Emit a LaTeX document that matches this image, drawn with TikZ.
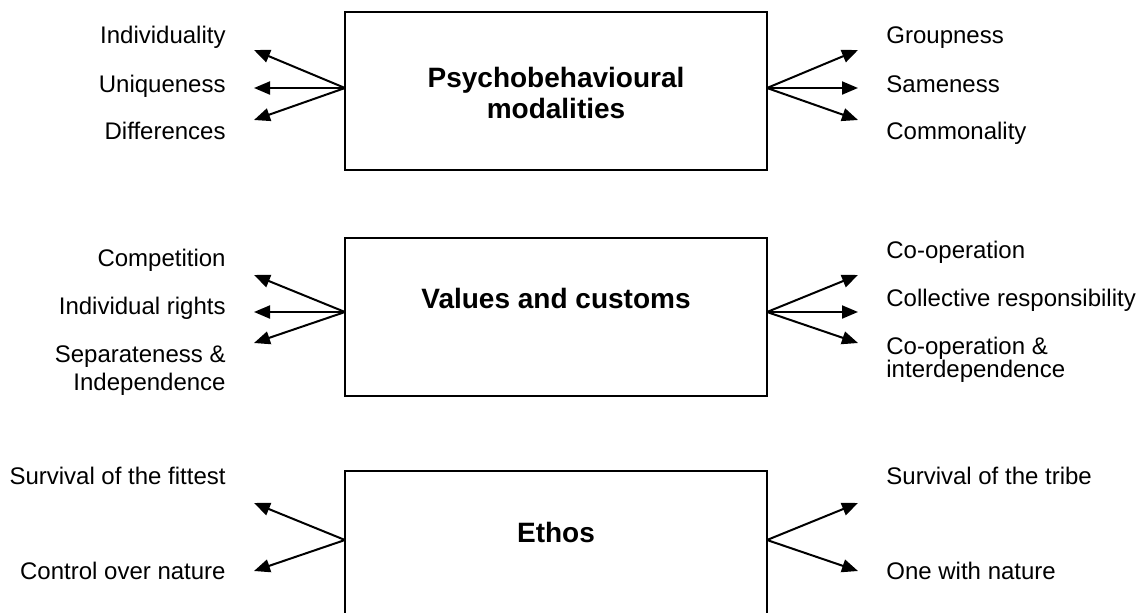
\documentclass[tikz,border=0pt]{standalone}
\usepackage{fontspec}
\setmainfont{Liberation Sans}
\usetikzlibrary{arrows.meta}
\tikzset{
  boxnode/.style={draw=black, line width=1pt, minimum width=211pt, minimum height=79pt, inner sep=0pt},
  title/.style={font=\fontsize{14}{15.5}\selectfont\bfseries, align=center, inner sep=0pt},
  lab/.style={font=\fontsize{12}{14}\selectfont, inner sep=0pt},
  llab/.style={lab, anchor=base east, align=right},
  rlab/.style={lab, anchor=base west, align=left},
  arr/.style={line width=1pt, -{Triangle[length=8pt,width=6.5pt]}}
}
\begin{document}
\begin{tikzpicture}[x=0.5pt,y=-0.5pt]
\useasboundingbox (0,0) rectangle (1142,612);
\clip (0,0) rectangle (1142,612);
% boxes
\node[boxnode] (b1) at (556,91) {};
\node[boxnode] (b2) at (556,317) {};
\node[boxnode] (b3) at (556,550) {};
% titles
\node[title, anchor=base] (t1) at (556,118) {Psychobehavioural\\modalities};
\node[title, anchor=base] (t2) at (556,308) {Values and customs};
\node[title, anchor=base] (t3) at (556,542) {Ethos};
% origins
\coordinate (o1l) at (345,88);  \coordinate (o1r) at (767,88);
\coordinate (o2l) at (345,312); \coordinate (o2r) at (767,312);
\coordinate (o3l) at (345,540); \coordinate (o3r) at (767,540);
% tips
\coordinate (a1) at (254,50);  \coordinate (a2) at (254,88);  \coordinate (a3) at (254,120);
\coordinate (c1) at (858,50);  \coordinate (c2) at (858,88);  \coordinate (c3) at (858,120);
\coordinate (a4) at (254,275); \coordinate (a5) at (254,312); \coordinate (a6) at (254,343);
\coordinate (c4) at (858,275); \coordinate (c5) at (858,312); \coordinate (c6) at (858,343);
\coordinate (a7) at (254,503); \coordinate (a8) at (254,571);
\coordinate (c7) at (858,503); \coordinate (c8) at (858,571);
% arrows
\foreach \o/\t in {o1l/a1,o1l/a2,o1l/a3,o1r/c1,o1r/c2,o1r/c3,
                   o2l/a4,o2l/a5,o2l/a6,o2r/c4,o2r/c5,o2r/c6,
                   o3l/a7,o3l/a8,o3r/c7,o3r/c8}
  \draw[arr] (\o) -- (\t);
% left labels
\node[llab] (l1) at (226,43) {Individuality};
\node[llab] (l2) at (226,92) {Uniqueness};
\node[llab] (l3) at (226,139) {Differences};
\node[llab] (l4) at (226,266) {Competition};
\node[llab] (l5) at (226,314) {Individual rights};
\node[llab] (l6) at (226,390) {Separateness \&\\Independence};
\node[llab] (l7) at (226,484) {Survival of the fittest};
\node[llab] (l8) at (226,579) {Control over nature};
% right labels
\node[rlab] (r1) at (886,43) {Groupness};
\node[rlab] (r2) at (886,92) {Sameness};
\node[rlab] (r3) at (886,139) {Commonality};
\node[rlab] (r4) at (886,258) {Co-operation};
\node[rlab] (r5) at (886,306) {Collective responsibility};
\node[rlab, font=\fontsize{12}{11.5}\selectfont] (r6) at (886,377) {Co-operation \&\\interdependence};
\node[rlab] (r7) at (886,484) {Survival of the tribe};
\node[rlab] (r8) at (886,579) {One with nature};
\end{tikzpicture}
\end{document}
